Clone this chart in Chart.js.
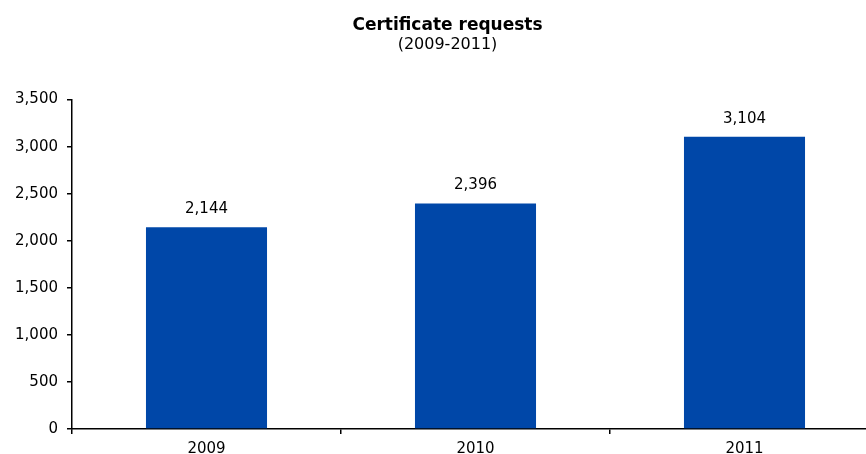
<!DOCTYPE html>
<html><head><meta charset="utf-8">
<script src="https://cdn.jsdelivr.net/npm/chart.js@4"></script>
<style>html,body{margin:0;padding:0;background:#fff;overflow:hidden}#wrap{width:866px;height:454px;overflow:hidden}canvas{display:block}</style>
</head><body><div id="wrap"><canvas id="c" width="879" height="454"></canvas></div>
<script>
const categories = ['2009', '2010', '2011'];
const requests = [2144, 2396, 3104];
const yTicks = [0, 500, 1000, 1500, 2000, 2500, 3000, 3500];

const fmt = v => v.toLocaleString('en-US');
const FONT = "'DejaVu Sans', Verdana, sans-serif";

const labelPlugin = {
  id: 'barLabels',
  afterDatasetsDraw(chart) {
    const ctx = chart.ctx;
    const meta = chart.getDatasetMeta(0);
    ctx.save();
    ctx.font = '15px ' + FONT;
    ctx.fillStyle = '#000';
    ctx.textAlign = 'center';
    ctx.textBaseline = 'middle';
    meta.data.forEach((bar, i) => {
      ctx.fillText(fmt(requests[i]), bar.x, bar.y - 18);
    });
    ctx.restore();
  }
};

new Chart(document.getElementById('c'), {
  type: 'bar',
  data: {
    labels: categories,
    datasets: [{
      data: requests,
      backgroundColor: '#0047A8',
      borderWidth: 0,
      barPercentage: 0.45,
      categoryPercentage: 1
    }]
  },
  options: {
    responsive: false,
    animation: false,
    layout: { padding: { top: 0, right: 0, left: 16, bottom: 0 } },
    plugins: {
      legend: { display: false },
      tooltip: { enabled: false },
      title: {
        display: true, text: 'Certificate requests', color: '#000',
        font: { family: FONT, size: 17, weight: 'bold' },
        padding: { top: 15, bottom: 0 }
      },
      subtitle: {
        display: true, text: '(2009-2011)', color: '#000',
        font: { family: FONT, size: 16 },
        padding: { top: 0, bottom: 45 }
      }
    },
    scales: {
      x: {
        offset: true,
        afterFit(scale) { scale.height = 25; },
        grid: { display: true, drawOnChartArea: false, offset: true, color: '#000', tickLength: 5, lineWidth: 1.5 },
        border: { display: true, color: '#000', width: 1.5 },
        ticks: { color: '#000', font: { family: FONT, size: 15 }, padding: 6 }
      },
      y: {
        min: 0, max: 3500,
        afterFit(scale) { scale.width = 56; },
        afterBuildTicks(scale) { scale.ticks = yTicks.map(v => ({ value: v })); },
        grid: { display: true, drawOnChartArea: false, color: '#000', tickLength: 5, lineWidth: 1.5 },
        border: { display: true, color: '#000', width: 1.5 },
        ticks: { color: '#000', font: { family: FONT, size: 15 }, padding: 9, callback: v => fmt(v) }
      }
    }
  },
  plugins: [labelPlugin]
});
</script></body></html>
